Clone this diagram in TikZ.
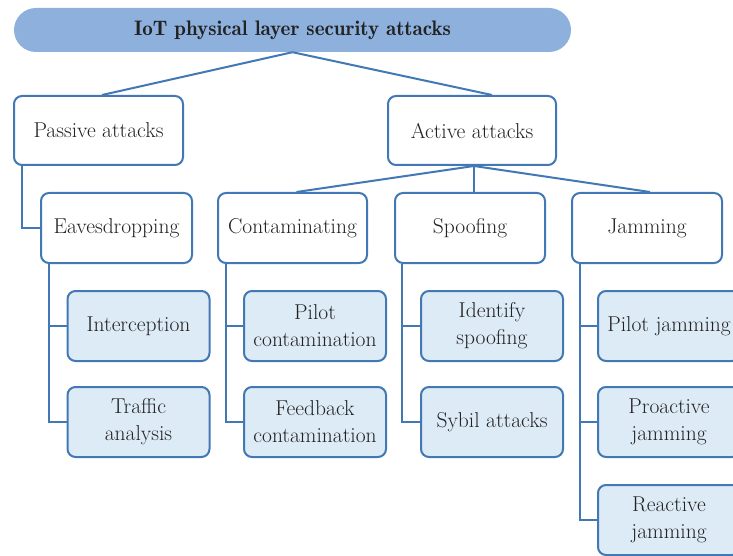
\documentclass[tikz,border=0pt]{standalone}
\usetikzlibrary{calc}
\definecolor{bline}{HTML}{4278B4}
\definecolor{tfill}{HTML}{8DB0DC}
\definecolor{lfill}{HTML}{DDEBF7}
\definecolor{txt}{HTML}{222222}
\tikzset{
  box/.style={draw=bline, line width=2pt, rounded corners=8pt, fill=white,
    minimum width=150pt, minimum height=70pt, inner sep=0pt, align=center,
    text=txt, font=\fontsize{21.5}{27}\selectfont},
  leaf/.style={box, fill=lfill, minimum width=142pt, minimum height=70pt},
  titlebox/.style={fill=tfill, rounded corners=22pt, minimum width=557pt,
    minimum height=44pt, inner sep=0pt, text=txt,
    font=\fontsize{21}{26}\fontseries{b}\selectfont},
  conn/.style={draw=bline, line width=2pt}
}
\begin{document}
\begin{tikzpicture}[x=1pt,y=-1pt]
\useasboundingbox (0,0) rectangle (733,556);
\fill[white] (0,0) rectangle (733,556);
\clip (0,0) rectangle (733,556);

\node[titlebox] (title) at (292.5,30) {IoT physical layer security attacks};

\node[box, minimum width=169pt, minimum height=69pt] (passive) at (98.5,130.5) {Passive attacks};
\node[box, minimum width=168pt, minimum height=69pt] (active) at (472,130.5) {Active attacks};

\node[box, minimum width=151pt] (eaves) at (116.5,228) {Eavesdropping};
\node[box, minimum width=149pt] (contam) at (292.5,228) {Contaminating};
\node[box] (spoof) at (470,228) {Spoofing};
\node[box] (jam) at (647,228) {Jamming};

\node[leaf] (inter) at (138.5,326) {Interception};
\node[leaf] (traffic) at (138.5,422) {Traffic\\analysis};
\node[leaf] (pcont) at (315,326) {Pilot\\contamination};
\node[leaf] (fcont) at (315,422) {Feedback\\contamination};
\node[leaf] (ident) at (492,326) {Identify\\spoofing};
\node[leaf] (sybil) at (492,422) {Sybil attacks};
\node[leaf] (pjam) at (669,326) {Pilot jamming};
\node[leaf] (projam) at (669,422) {Proactive\\jamming};
\node[leaf] (rejam) at (669,520) {Reactive\\jamming};

% level 1
\draw[conn] (title.south) -- ([xshift=3.5pt]passive.north);
\draw[conn] (title.south) -- ([xshift=20pt]active.north);
% level 2
\draw[conn] ([xshift=2pt]active.south) -- ([xshift=4pt]contam.north);
\draw[conn] ([xshift=2pt]active.south) -- ([xshift=4pt]spoof.north);
\draw[conn] ([xshift=2pt]active.south) -- ([xshift=3pt]jam.north);
\draw[conn] ([xshift=9pt]passive.south west) |- (eaves.west);
% leaves
\draw[conn] ([xshift=9pt]eaves.south west) |- (inter.west);
\draw[conn] ([xshift=9pt]eaves.south west) |- (traffic.west);
\draw[conn] ([xshift=9pt]contam.south west) |- (pcont.west);
\draw[conn] ([xshift=9pt]contam.south west) |- (fcont.west);
\draw[conn] ([xshift=8pt]spoof.south west) |- (ident.west);
\draw[conn] ([xshift=8pt]spoof.south west) |- (sybil.west);
\draw[conn] ([xshift=9pt]jam.south west) |- (pjam.west);
\draw[conn] ([xshift=9pt]jam.south west) |- (projam.west);
\draw[conn] ([xshift=9pt]jam.south west) |- (rejam.west);
\end{tikzpicture}
\end{document}
